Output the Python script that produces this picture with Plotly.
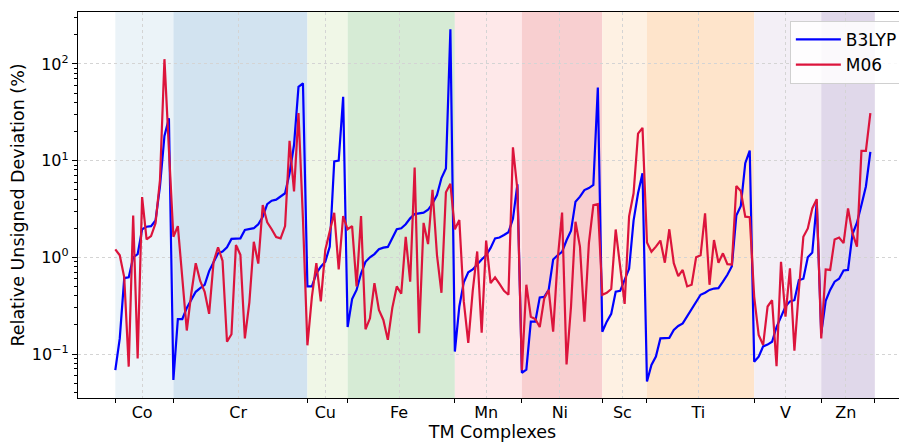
import plotly.graph_objects as go

groups = ["Co", "Cr", "Cu", "Fe", "Mn", "Ni", "Sc", "Ti", "V", "Zn"]
counts = [13, 30, 9, 24, 15, 18, 10, 24, 15, 12]
span_colors = ["#EBF3F8", "#D2E3F0", "#F0F7E7", "#D6EBD5", "#FEE8E9",
               "#F8CFD0", "#FEF1E3", "#FEE4CB", "#F3EFF6", "#E0D8EA"]

b3lyp = [
    # Co
    0.068, 0.145, 0.61, 0.62, 1.0, 1.08, 1.95, 2.07, 2.1, 2.4, 5.4, 18, 27.4,
    # Cr
    0.054, 0.23, 0.23, 0.3, 0.36, 0.44, 0.48, 0.52, 0.72, 0.9, 1.1, 1.15, 1.27,
    1.55, 1.57, 1.57, 1.92, 1.95, 2.0, 2.2, 2.63, 3.55, 3.85, 3.95, 4.24, 4.6,
    7.4, 14.5, 58, 63,
    # Cu
    0.5, 0.5, 0.68, 0.8, 0.9, 1.29, 9.8, 10, 45.7,
    # Fe
    0.19, 0.37, 0.46, 0.68, 0.9, 1.0, 1.08, 1.21, 1.26, 1.28, 1.57, 1.95, 2.0,
    2.2, 2.53, 2.8, 2.85, 2.9, 3.1, 3.6, 4.4, 6.6, 8.3, 228,
    # Mn
    0.106, 0.31, 0.55, 0.7, 0.75, 0.85, 0.95, 1.05, 1.25, 1.57, 1.6, 1.7, 1.82,
    2.5, 5.7,
    # Ni
    0.064, 0.069, 0.216, 0.216, 0.385, 0.39, 0.46, 0.95, 1.05, 1.14, 1.5, 1.88,
    3.76, 4.24, 4.96, 5.2, 5.6, 57,
    # Sc
    0.17, 0.216, 0.26, 0.44, 0.45, 0.6, 0.76, 2.4, 4.6, 7.4,
    # Ti
    0.052, 0.077, 0.094, 0.145, 0.145, 0.147, 0.177, 0.195, 0.207, 0.247, 0.296,
    0.35, 0.41, 0.43, 0.46, 0.475, 0.48, 0.56, 0.66, 0.81, 2.7, 3.4, 9.4, 12.7,
    # V
    0.083, 0.094, 0.12, 0.125, 0.134, 0.19, 0.243, 0.31, 0.35, 0.36, 0.58, 0.6,
    1.0, 1.12, 3.7,
    # Zn
    0.164, 0.355, 0.46, 0.56, 0.6, 0.73, 0.74, 1.74, 2.28, 3.47, 5.4, 12.3,
]

m06 = [
    # Co
    1.21, 1.05, 0.62, 0.074, 2.7, 0.09, 4.2, 1.53, 1.66, 2.25, 6.3, 112, 13,
    # Cr
    1.63, 2.1, 0.6, 0.175, 0.42, 0.87, 0.57, 0.44, 0.26, 0.9, 1.27, 0.92, 0.134,
    0.16, 1.34, 1.06, 0.145, 0.34, 1.45, 0.86, 3.47, 2.3, 1.95, 1.62, 1.57, 2.1,
    16, 4.8, 31, 2.5,
    # Cu
    0.123, 0.39, 0.87, 0.35, 1.19, 1.92, 2.89, 0.75, 2.67,
    # Fe
    1.95, 2.1, 0.5, 2.67, 0.18, 0.234, 0.54, 0.285, 0.225, 0.14, 0.3, 0.5, 0.42,
    1.63, 0.56, 8.5, 0.164, 2.27, 1.37, 5.0, 1.05, 0.43, 4.7, 5.75,
    # Mn
    1.95, 2.43, 0.35, 0.13, 0.45, 1.15, 0.166, 1.49, 0.54, 0.62, 0.53, 0.45,
    0.41, 13.7, 5.0,
    # Ni
    0.068, 0.52, 0.243, 0.23, 0.19, 0.375, 0.46, 0.17, 0.94, 2.9, 0.078, 0.31,
    2.33, 1.29, 0.216, 1.4, 3.47, 3.55,
    # Sc
    0.41, 0.43, 0.47, 1.94, 0.85, 0.33, 2.65, 4.6, 19, 21.8,
    # Ti
    1.42, 1.14, 1.29, 1.49, 0.88, 1.95, 0.87, 0.64, 0.74, 0.5, 0.52, 1.0, 1.05,
    2.85, 0.52, 1.51, 0.88, 1.1, 0.85, 0.84, 5.46, 4.85, 2.63, 2.6,
    # V
    0.39, 0.157, 0.124, 0.31, 0.36, 0.075, 0.9, 0.243, 0.77, 0.108, 0.46, 1.63,
    1.99, 3.2, 4.0,
    # Zn
    0.145, 0.75, 0.74, 1.53, 1.6, 1.4, 3.2, 1.77, 1.29, 12.6, 12.6, 31,
]

y_tick_vals = [0.1, 1, 10, 100]
y_tick_text = ["10<sup>\u22121</sup>", "10<sup>0</sup>", "10<sup>1</sup>", "10<sup>2</sup>"]

# group boundaries and centres
starts = []
s = 0
for c in counts:
    starts.append(s)
    s += c
bounds = starts + [s]
centres = [st + (c - 1) / 2 for st, c in zip(starts, counts)]
x = list(range(len(b3lyp)))

fig = go.Figure()
fig.add_trace(go.Scatter(x=x, y=b3lyp, mode="lines", name="B3LYP",
                         line=dict(color="#0000FF", width=2.2)))
fig.add_trace(go.Scatter(x=x, y=m06, mode="lines", name="M06",
                         line=dict(color="#DC143C", width=2.2)))

for st, c, col in zip(starts, counts, span_colors):
    fig.add_shape(type="rect", xref="x", yref="paper", x0=st, x1=st + c,
                  y0=0, y1=1, fillcolor=col, line=dict(width=0), layer="below")

minor_y = [k * 10 ** e for e in range(-2, 3) for k in range(2, 10)]

# the page body adds an 8px offset, so the figure is sized to fit the window
fig.update_layout(
    width=899, height=440,
    margin=dict(l=70, r=0, t=4, b=50, autoexpand=False),
    paper_bgcolor="white", plot_bgcolor="white",
    font=dict(family="DejaVu Sans", size=16, color="black"),
    showlegend=True,
    legend=dict(x=0.995, y=0.977, xanchor="right", yanchor="top",
                bgcolor="rgba(255,255,255,0.85)", bordercolor="#d0d0d0",
                borderwidth=1, font=dict(size=17), tracegroupgap=0,
                itemwidth=45),
)

fig.update_xaxes(
    range=[-8.35, 177.2], automargin=False,
    tickvals=centres, ticktext=groups, ticks="", tickfont=dict(size=16),
    showgrid=True, gridcolor="#d4d4d4", griddash="dot", gridwidth=1,
    zeroline=False,
    showline=True, linecolor="black", linewidth=1.3, mirror=True,
    minor=dict(tickvals=bounds, ticks="outside", ticklen=4, tickcolor="black",
               showgrid=False),
    title=dict(text="TM Complexes", font=dict(size=17.5), standoff=4),
    ticklabelstandoff=0,
)

fig.update_yaxes(
    type="log", range=[-1.455, 2.537], automargin=False,
    tickvals=y_tick_vals, ticktext=y_tick_text, ticks="outside", ticklen=5,
    tickcolor="black", tickfont=dict(size=16),
    showgrid=True, gridcolor="#d4d4d4", griddash="dot", gridwidth=1,
    zeroline=False,
    showline=True, linecolor="black", linewidth=1.3, mirror=False,
    minor=dict(tickvals=minor_y, ticks="outside", ticklen=3, tickcolor="black",
               showgrid=False),
    title=dict(text="Relative Unsigned Deviation (%)", font=dict(size=17.5),
               standoff=2),
)

fig.write_html("out.html")
